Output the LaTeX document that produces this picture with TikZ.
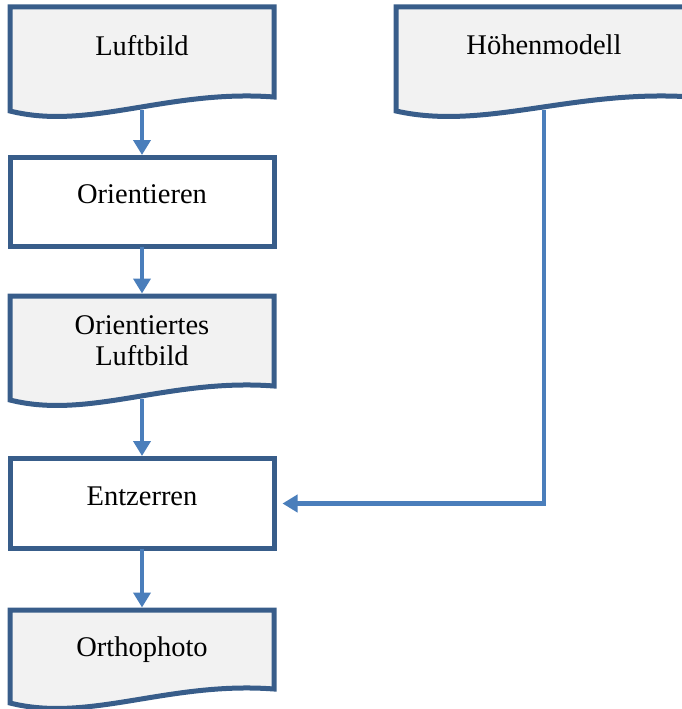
\documentclass[tikz,border=0pt]{standalone}
\usepackage{fontspec}
\setmainfont{Liberation Serif}
\usetikzlibrary{arrows.meta,calc,backgrounds}
\definecolor{boxline}{HTML}{385D8A}
\definecolor{flowblue}{HTML}{4A7EBB}
\definecolor{docfill}{HTML}{F2F2F2}
\tikzset{
  procbox/.style={draw=boxline,line width=5pt,fill=white,minimum width=264pt,
    minimum height=89pt,outer sep=0pt,text depth=15pt},
  docnode/.style={minimum width=264pt,minimum height=90pt,outer sep=0pt,align=center},
  docline/.style={draw=boxline,line width=5pt,fill=docfill,line join=miter},
  flow/.style={draw=flowblue,line width=4.5pt,-{Triangle[length=15pt,width=17pt]},shorten >=2.5pt}
}
% document outline with wavy lower edge round a named node
\newcommand\docshape[1]{%
  \draw[docline] (#1.north west) -- (#1.north east) -- (#1.south east)
    .. controls ($(#1.south west)!0.6!(#1.south east)+(0,-8)$)
    and ($(#1.south west)!0.3!(#1.south east)+(0,34)$) .. ($(#1.south west)+(0,14)$) -- cycle;
  \coordinate (#1-out) at ($(#1.south)+(0,12.5)$);}
\begin{document}
\begin{tikzpicture}[x=1pt,y=-1pt,font=\fontsize{28.5}{31}\selectfont]
  \useasboundingbox (0,0) rectangle (682,709);
  \node[docnode,text depth=14pt] (luft) at (142,52) {Luftbild};
  \node[docnode,text depth=14pt,minimum width=296pt] (hoehe) at (544,52) {Höhenmodell};
  \node[procbox] (orient) at (142,202) {Orientieren};
  \node[docnode] (oluft) at (142,341) {Orientiertes\\Luftbild};
  \node[procbox,minimum height=90pt] (entz) at (142,503.5) {Entzerren};
  \node[docnode,minimum height=79pt] (ortho) at (142,649.5) {Orthophoto};
  \begin{scope}[on background layer]
    \docshape{luft}
    \docshape{hoehe}
    \docshape{oluft}
    \docshape{ortho}
  \end{scope}
  \draw[flow] (luft-out) -- (orient.north);
  \draw[flow] (orient.south) -- (oluft.north);
  \draw[flow] (oluft-out) -- (entz.north);
  \draw[flow] (entz.south) -- (ortho.north);
  \draw[flow,shorten >=8.5pt] (hoehe-out) |- (entz.east);
\end{tikzpicture}
\end{document}
